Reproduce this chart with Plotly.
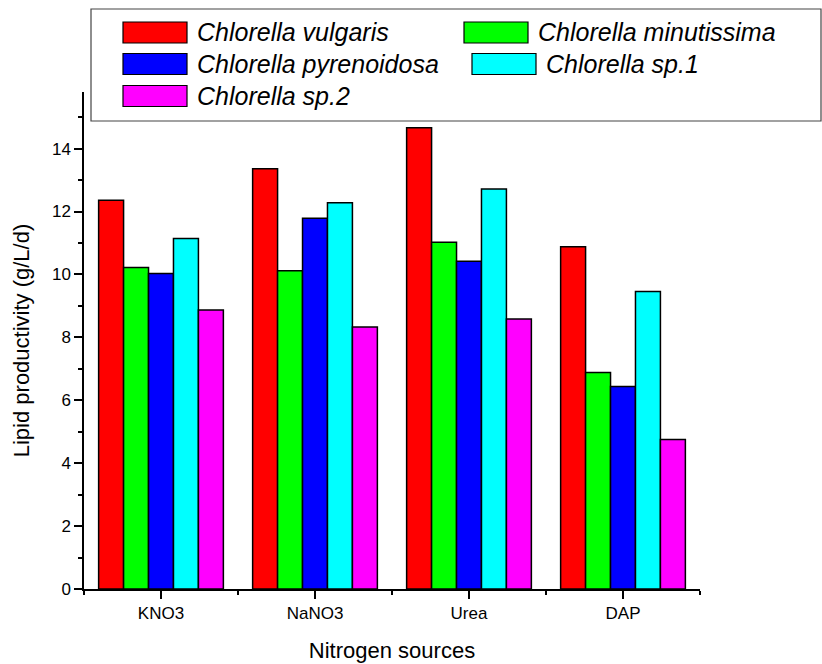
import plotly.graph_objects as go

categories = ["KNO3", "NaNO3", "Urea", "DAP"]
series_names = ["Chlorella vulgaris", "Chlorella minutissima", "Chlorella pyrenoidosa",
                "Chlorella sp.1", "Chlorella sp.2"]
vulgaris = [12.36, 13.36, 14.66, 10.88]
minutissima = [10.22, 10.12, 11.02, 6.88]
pyrenoidosa = [10.03, 11.79, 10.42, 6.44]
sp1 = [11.14, 12.28, 12.72, 9.46]
sp2 = [8.87, 8.33, 8.58, 4.75]
series_values = [vulgaris, minutissima, pyrenoidosa, sp1, sp2]
colors = ["#FF0000", "#00FF00", "#0000FF", "#00FFFF", "#FF00FF"]
y_ticks = [0, 2, 4, 6, 8, 10, 12, 14]

W, H = 822, 664
L, R, T, B = 84, 122, 92, 75
PW, PH = W - L - R, H - T - B
FONT = "Arial, Liberation Sans, sans-serif"


def px_x(x):
    return (x - L) / PW


def px_y(y):
    return (H - B - y) / PH


x_pos = list(range(len(categories)))

fig = go.Figure()
for name, vals, col in zip(series_names, series_values, colors):
    fig.add_trace(go.Bar(
        x=x_pos, y=vals, name=name,
        marker=dict(color=col, line=dict(color="black", width=1.5)),
        showlegend=False,
    ))

fig.update_layout(
    width=W, height=H,
    margin=dict(l=L, r=R, t=T, b=B),
    barmode="group", bargap=0.19, bargroupgap=0,
    plot_bgcolor="white", paper_bgcolor="white",
    font=dict(family=FONT, color="black", size=17),
    xaxis=dict(
        range=[-0.5, len(categories) - 0.5],
        tickmode="array", tickvals=x_pos, ticktext=categories,
        showline=True, linecolor="black", linewidth=1.5,
        ticks="outside", ticklen=8, tickwidth=1.5, tickcolor="black",
        minor=dict(tickmode="array", tickvals=[i - 0.5 for i in range(len(categories) + 1)],
                   ticks="outside", ticklen=4, tickwidth=1.5, tickcolor="black"),
        showgrid=False, zeroline=False, automargin=False,
        tickfont=dict(size=17),
        title=dict(text="Nitrogen sources", font=dict(size=22), standoff=20),
    ),
    yaxis=dict(
        range=[0, 15.8],
        tickmode="array", tickvals=y_ticks,
        showline=True, linecolor="black", linewidth=1.5,
        ticks="outside", ticklen=8, tickwidth=1.5, tickcolor="black",
        minor=dict(dtick=1, tick0=0, ticks="outside", ticklen=4, tickwidth=1.5, tickcolor="black"),
        showgrid=False, zeroline=False, automargin=False,
        tickfont=dict(size=17),
        title=dict(text="Lipid productivity (g/L/d)", font=dict(size=22), standoff=16),
    ),
)

# Legend box (drawn manually to mimic the original large swatches)
fig.add_shape(type="rect", xref="paper", yref="paper",
              x0=px_x(91), x1=px_x(821), y0=px_y(121), y1=px_y(9),
              line=dict(color="#444444", width=1.2), fillcolor="white", layer="above")

legend_layout = [
    (123, 32.5), (464, 32.5),
    (123, 64), (472, 64),
    (123, 96),
]
legend_order = [0, 1, 2, 3, 4]
for idx, (sx, sy) in zip(legend_order, legend_layout):
    fig.add_shape(type="rect", xref="paper", yref="paper",
                  x0=px_x(sx), x1=px_x(sx + 64), y0=px_y(sy + 10.5), y1=px_y(sy - 10.5),
                  line=dict(color="black", width=1.2), fillcolor=colors[idx], layer="above")
    fig.add_annotation(xref="paper", yref="paper", x=px_x(sx + 72), y=px_y(sy),
                       xanchor="left", yanchor="middle", showarrow=False,
                       text="<i>" + series_names[idx] + "</i>",
                       font=dict(size=25, family=FONT, color="black"))

fig.write_html("out.html")
